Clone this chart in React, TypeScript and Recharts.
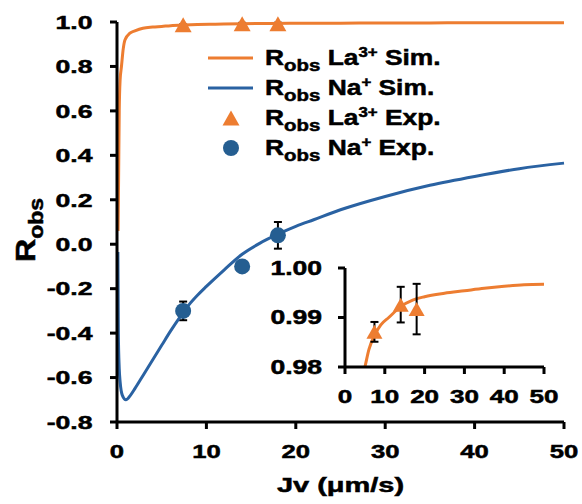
import React from 'react';
import { ComposedChart, Line, Scatter, XAxis, YAxis, ErrorBar, Legend } from 'recharts';

const FONT = "Arial, 'Liberation Sans', Helvetica, sans-serif";
const ORANGE = '#ED7D31';
const BLUE_LINE = '#2A62A2';
const BLUE_DOT = '#255E91';
const TXT_STROKE = 0.5;

// ---- tick labels ----
const xTicks = [0, 10, 20, 30, 40, 50];
const yTicksMain = [-0.8, -0.6, -0.4, -0.2, 0, 0.2, 0.4, 0.6, 0.8, 1.0];
const yTicksInset = [0.98, 0.99, 1.0];

// ---- simulated curves ----
const laSimX = [0.12, 0.18, 0.25, 0.35, 0.5, 0.7, 0.9, 1.45, 2.0, 2.9, 4.0, 5.0, 6.0, 7.5, 9.0, 11.0, 14.0, 17.0, 20.0, 25.0, 30.0, 35.0, 40.0, 45.0, 50.0];
const laSimY = [0.06, 0.3, 0.6, 0.74, 0.8, 0.88, 0.92, 0.95, 0.96, 0.972, 0.977, 0.98, 0.9835, 0.9865, 0.9885, 0.990, 0.9922, 0.9935, 0.9942, 0.9949, 0.9954, 0.9959, 0.9963, 0.9966, 0.9967];

const naSimX = [0.1, 0.15, 0.25, 0.35, 0.6, 1.0, 1.5, 2.0, 3.0, 4.0, 5.0, 6.0, 7.0, 8.0, 9.0, 10.0, 12.0, 14.0, 16.0, 18.0, 20.0, 22.0, 25.0, 30.0, 35.0, 40.0, 45.0, 50.0];
const naSimY = [-0.035, -0.4, -0.56, -0.62, -0.68, -0.70, -0.68, -0.65, -0.585, -0.52, -0.455, -0.39, -0.33, -0.275, -0.23, -0.19, -0.115, -0.045, 0.005, 0.045, 0.08, 0.11, 0.155, 0.215, 0.265, 0.305, 0.34, 0.365];

// ---- experimental points ----
const expX = [7.4, 14.0, 18.0];
const laExpY = [0.9871, 0.9926, 0.9917];
const laExpErr = [0.002, 0.0036, 0.0051];
const naExpY = [-0.30, -0.10, 0.04];
const naExpErr = [0.042, 0.01, 0.06];

const laSim = laSimX.map((x, i) => ({ x, y: laSimY[i] }));
const naSim = naSimX.map((x, i) => ({ x, y: naSimY[i] }));
const laExp = expX.map((x, i) => ({ x, y: laExpY[i], err: laExpErr[i] }));
const naExp = expX.map((x, i) => ({ x, y: naExpY[i], err: naExpErr[i] }));

const axisStyle = { stroke: '#000', strokeWidth: 3 };

const TriangleShape = (props: any) => {
  const { cx, cy, w = 17, h = 15 } = props;
  if (cx == null || cy == null) return null;
  const pts = `${cx},${cy - h / 2} ${cx - w / 2},${cy + h / 2} ${cx + w / 2},${cy + h / 2}`;
  return <polygon points={pts} fill={ORANGE} />;
};

const CircleShape = (props: any) => {
  const { cx, cy, r = 8 } = props;
  if (cx == null || cy == null) return null;
  return <circle cx={cx} cy={cy} r={r} fill={BLUE_DOT} />;
};

const textProps = {
  fontFamily: FONT,
  fontWeight: 'bold' as const,
  fill: '#000',
  stroke: '#000',
  strokeWidth: TXT_STROKE,
};

const makeYTick = (fs: number, sx: number, digits: number) => (props: any) => {
  const { x, y, payload } = props;
  return (
    <text
      transform={`translate(${x},${y + fs * 0.358}) scale(${sx},1)`}
      textAnchor="end"
      fontSize={fs}
      {...textProps}
    >
      {Number(payload.value).toFixed(digits)}
    </text>
  );
};

const makeXTick = (fs: number, sx: number, off: number) => (props: any) => {
  const { x, y, payload } = props;
  return (
    <text
      transform={`translate(${x},${y + off}) scale(${sx},1)`}
      textAnchor="middle"
      fontSize={fs}
      {...textProps}
    >
      {payload.value}
    </text>
  );
};

const XLabel = (props: any) => {
  const vb = props.viewBox || { x: 117, y: 422, width: 447, height: 82 };
  const cx = vb.x + vb.width / 2;
  const by = vb.y + 69.5;
  return (
    <text
      transform={`translate(${cx},${by}) scale(1.38,1)`}
      textAnchor="middle"
      fontSize={21}
      {...textProps}
    >
      Jv (μm/s)
    </text>
  );
};

const YLabel = (props: any) => {
  const vb = props.viewBox || { x: 0, y: 22, width: 117, height: 400 };
  const cy = vb.y + vb.height / 2 + 8;
  return (
    <text
      transform={`translate(35,${cy}) rotate(-90) scale(1.15,1)`}
      textAnchor="middle"
      {...textProps}
    >
      <tspan fontSize={28}>R</tspan>
      <tspan fontSize={20} dy={8}>obs</tspan>
    </text>
  );
};

const legendItems = [
  { ion: 'La', charge: '3+', kind: 'Sim.', type: 'line', color: ORANGE },
  { ion: 'Na', charge: '+', kind: 'Sim.', type: 'line', color: BLUE_LINE },
  { ion: 'La', charge: '3+', kind: 'Exp.', type: 'triangle', color: ORANGE },
  { ion: 'Na', charge: '+', kind: 'Exp.', type: 'circle', color: BLUE_DOT },
];

const LegendContent = () => (
  <svg width={270} height={130} style={{ overflow: 'visible' }}>
    {legendItems.map((it, i) => {
      const cy = 18 + i * 30;
      const by = 25 + i * 30;
      return (
        <g key={i}>
          {it.type === 'line' && (
            <line x1={8} x2={53} y1={cy} y2={cy} stroke={it.color} strokeWidth={3} />
          )}
          {it.type === 'triangle' && <TriangleShape cx={31} cy={cy} w={17} h={15} />}
          {it.type === 'circle' && <CircleShape cx={31} cy={cy} r={8} />}
          <text transform={`translate(65,${by}) scale(1.2,1)`} {...textProps}>
            <tspan fontSize={22}>R</tspan>
            <tspan fontSize={17} dy={6}>obs</tspan>
            <tspan fontSize={22} dy={-6}>{' ' + it.ion}</tspan>
            <tspan fontSize={14} dy={-8}>{it.charge}</tspan>
            <tspan fontSize={22} dy={8}>{' ' + it.kind}</tspan>
          </text>
        </g>
      );
    })}
  </svg>
);

export default function App() {
  return (
    <div style={{ position: 'absolute', left: 0, top: 0, width: 582, height: 504, background: '#fff' }}>
      <div style={{ position: 'absolute', left: 0, top: 0 }}>
        <ComposedChart width={582} height={504} margin={{ top: 22, right: 18, bottom: 0, left: 0 }}>
          <XAxis
            type="number"
            dataKey="x"
            domain={[0, 50]}
            ticks={xTicks}
            interval={0}
            height={82}
            axisLine={axisStyle}
            tickLine={axisStyle}
            tickSize={7}
            tickMargin={2}
            tick={makeXTick(19, 1.35, 26.5)}
            label={<XLabel />}
          />
          <YAxis
            type="number"
            dataKey="y"
            domain={[-0.8, 1.0]}
            ticks={yTicksMain}
            interval={0}
            width={117}
            axisLine={axisStyle}
            tickLine={axisStyle}
            tickSize={7}
            tickMargin={17.5}
            tick={makeYTick(19, 1.4, 1)}
            label={<YLabel />}
          />
          <Scatter data={laExp} dataKey="y" fill={ORANGE} isAnimationActive={false} shape={(p: any) => <TriangleShape {...p} w={17} h={15} />}>
            <ErrorBar dataKey="err" direction="y" width={4} stroke="#000" strokeWidth={2} />
          </Scatter>
          <Scatter data={naExp} dataKey="y" fill={BLUE_DOT} isAnimationActive={false} shape={(p: any) => <CircleShape {...p} r={8} />}>
            <ErrorBar dataKey="err" direction="y" width={4} stroke="#000" strokeWidth={2} />
          </Scatter>
          <Line data={laSim} dataKey="y" type="monotone" stroke={ORANGE} strokeWidth={3} dot={false} activeDot={false} isAnimationActive={false} />
          <Line data={naSim} dataKey="y" type="monotone" stroke={BLUE_LINE} strokeWidth={3} dot={false} activeDot={false} isAnimationActive={false} />
          <Legend
            layout="horizontal"
            align="center"
            verticalAlign="middle"
            content={<LegendContent />}
            wrapperStyle={{ position: 'absolute', left: 200, top: 40, width: 270, height: 130 }}
          />
        </ComposedChart>
      </div>
      <div style={{ position: 'absolute', left: 0, top: 0 }}>
        <ComposedChart width={582} height={504} margin={{ top: 268, right: 38, bottom: 0, left: 0 }}>
          <XAxis
            type="number"
            dataKey="x"
            domain={[0, 50]}
            ticks={xTicks}
            interval={0}
            height={137}
            axisLine={axisStyle}
            tickLine={axisStyle}
            tickSize={7}
            tickMargin={2}
            tick={makeXTick(19, 1.37, 27)}
            allowDataOverflow
          />
          <YAxis
            type="number"
            dataKey="y"
            domain={[0.98, 1.0]}
            ticks={yTicksInset}
            interval={0}
            width={345}
            axisLine={axisStyle}
            tickLine={axisStyle}
            tickSize={7}
            tickMargin={16}
            tick={makeYTick(19.5, 1.36, 2)}
            allowDataOverflow
          />
          <Line data={laSim} dataKey="y" type="monotone" stroke={ORANGE} strokeWidth={3} dot={false} activeDot={false} isAnimationActive={false} />
          <Scatter data={laExp} dataKey="y" fill={ORANGE} isAnimationActive={false} shape={(p: any) => <TriangleShape {...p} w={16} h={14} />}>
            <ErrorBar dataKey="err" direction="y" width={4} stroke="#000" strokeWidth={2} />
          </Scatter>
        </ComposedChart>
      </div>
    </div>
  );
}
